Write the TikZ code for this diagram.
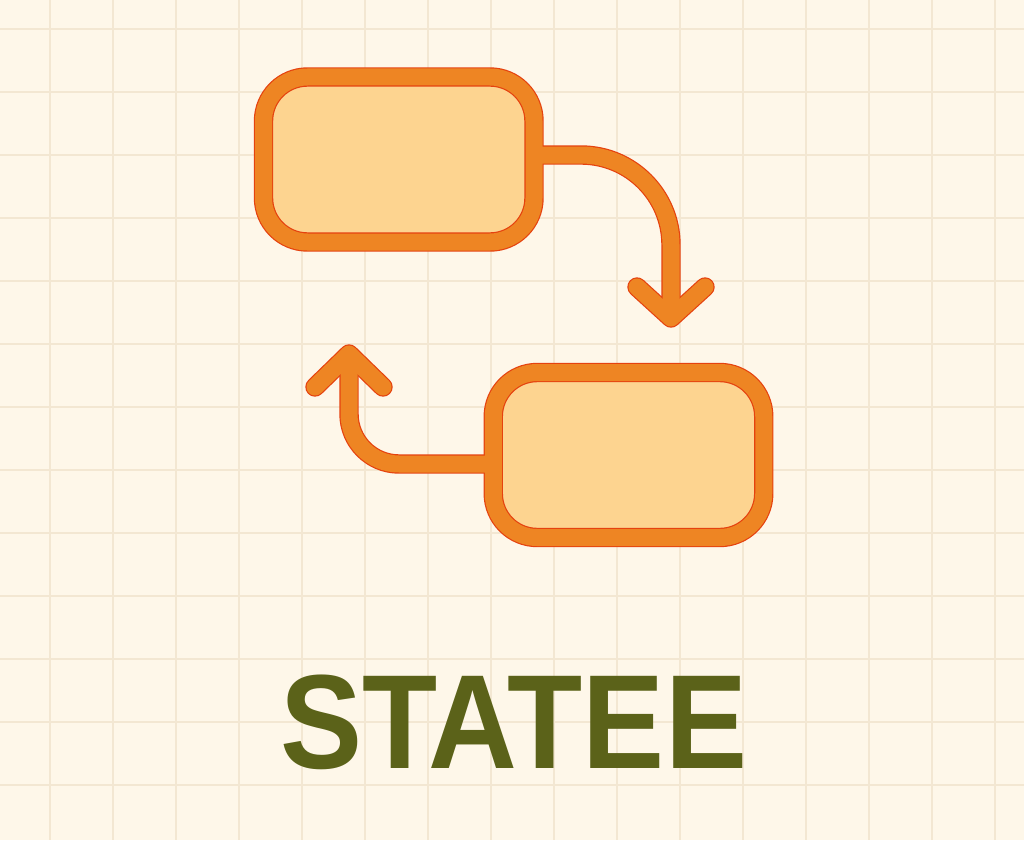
\documentclass[tikz,border=0pt]{standalone}
\usepackage{fontspec}
\setmainfont{Liberation Sans}
\usetikzlibrary{calc}
\newlength{\du}
\setlength{\du}{1pt}
\definecolor{paperbg}{rgb}{0.996078, 0.968627, 0.913725}
\definecolor{gridbeige}{rgb}{0.952941, 0.905882, 0.823529}
\definecolor{boxorange}{rgb}{0.933333, 0.521569, 0.137255}
\definecolor{edgered}{rgb}{0.898039, 0.258824, 0.058824}
\definecolor{boxfill}{rgb}{0.992157, 0.831373, 0.564706}
\definecolor{titleolive}{rgb}{0.356863, 0.384314, 0.098039}
\pgfdeclarelayer{gridlayer}
\pgfdeclarelayer{linklayer}
\pgfdeclarelayer{toplayer}
\pgfsetlayers{gridlayer,linklayer,main,toplayer}
\tikzset{
  statebox/.style={rectangle, draw=edgered, double=boxorange, double distance=17\du,
    line width=1.2\du, fill=boxfill, rounded corners=44\du,
    minimum width=270.5\du, minimum height=165\du, inner sep=0pt, outer sep=0pt},
  flowedge/.style={draw=edgered, line width=19.4\du, line join=round},
  flowcore/.style={draw=boxorange, line width=17\du, line join=round},
  gridline/.style={draw=gridbeige, line width=1.3\du},
  titletext/.style={text=titleolive, font=\bfseries\fontsize{134}{134}\selectfont,
    inner sep=0pt, anchor=base, xscale=0.918}
}
\begin{document}
\begin{tikzpicture}
\pgftransformyscale{-1.000000}
\useasboundingbox (0\du,0\du) rectangle (1024\du,840\du);
\begin{pgfonlayer}{gridlayer}
\fill[paperbg] (0\du,0\du) rectangle (1024\du,840\du);
\foreach \gx in {50,113,...,995}
  \draw[gridline] (\gx\du,0\du) -- (\gx\du,840\du);
\foreach \gy in {29,92,...,785}
  \draw[gridline] (0\du,\gy\du) -- (1024\du,\gy\du);
\end{pgfonlayer}
\node[statebox] (stateA) at (398.750000\du,159.500000\du) {};
\node[statebox] (stateB) at (628.500000\du,455.000000\du) {};
\coordinate (tipA) at (671.000000\du,318.000000\du);
\coordinate (tipB) at (349.000000\du,354.000000\du);
\node[titletext] (title) at (513.500000\du,768.000000\du) {STATEE};
\begin{pgfonlayer}{linklayer}
\draw[flowedge] ($(stateA.east)+(0\du,-4.5\du)$) [rounded corners=90\du] -| (tipA);
\draw[flowedge,line cap=round] (tipA) ++(-34\du,-31\du) -- (tipA) -- ++(34\du,-31\du);
\draw[flowedge] ($(stateB.west)+(0\du,9\du)$) [rounded corners=50\du] -| (tipB);
\draw[flowedge,line cap=round] (tipB) ++(-34\du,33\du) -- (tipB) -- ++(34\du,33\du);
\end{pgfonlayer}
\begin{pgfonlayer}{toplayer}
\draw[flowcore] ($(stateA.east)+(0\du,-4.5\du)$) [rounded corners=90\du] -| (tipA);
\draw[flowcore,line cap=round] (tipA) ++(-34\du,-31\du) -- (tipA) -- ++(34\du,-31\du);
\draw[flowcore] ($(stateB.west)+(0\du,9\du)$) [rounded corners=50\du] -| (tipB);
\draw[flowcore,line cap=round] (tipB) ++(-34\du,33\du) -- (tipB) -- ++(34\du,33\du);
\end{pgfonlayer}
\end{tikzpicture}
\end{document}
